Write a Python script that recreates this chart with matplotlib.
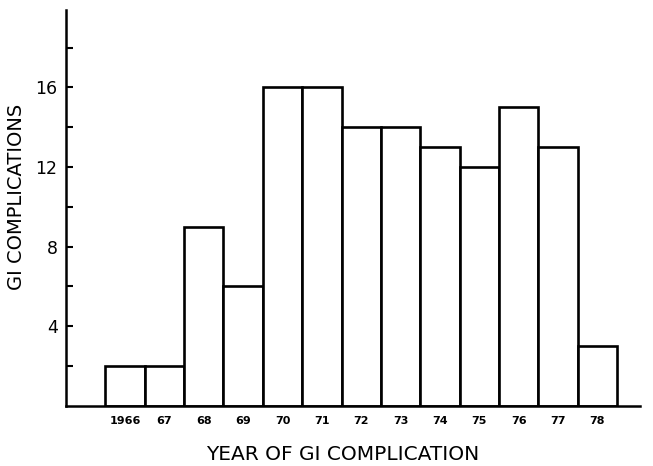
import matplotlib
matplotlib.use("Agg")
import matplotlib.pyplot as plt
from matplotlib import font_manager

years = ["1966", "67", "68", "69", "70", "71", "72", "73", "74", "75", "76", "77", "78"]
counts = [2, 2, 9, 6, 16, 16, 14, 14, 13, 12, 15, 13, 3]
y_major = [4, 8, 12, 16]
y_minor = [2, 6, 10, 14, 18]

names = {f.name for f in font_manager.fontManager.ttflist}
narrow = "Liberation Sans Narrow" if "Liberation Sans Narrow" in names else "DejaVu Sans"

fig = plt.figure(figsize=(6.53, 4.66), dpi=100)
ax = fig.add_axes([0.101, 0.129, 0.879, 0.85])

x = list(range(len(years)))
ax.bar(x, counts, width=1.0, facecolor="white", edgecolor="black", linewidth=1.9)

ax.set_xlim(-1.5, 13.08)
ax.set_ylim(0, 19.9)

for s in ["top", "right"]:
    ax.spines[s].set_visible(False)
for s in ["left", "bottom"]:
    ax.spines[s].set_linewidth(1.8)

ax.set_xticks(x)
ax.set_xticklabels(years, fontfamily=narrow, fontweight="bold", fontsize=8)
ax.tick_params(axis="x", length=0, pad=7)

ax.set_yticks(y_major)
ax.set_yticklabels([str(v) for v in y_major], fontsize=12.5)
ax.set_yticks(y_minor, minor=True)
ax.tick_params(axis="y", which="both", direction="in", length=5, width=1.5, pad=6)

fig.text(17 / 653, 1 - 197 / 466, "GI COMPLICATIONS", rotation=90,
         ha="center", va="center", fontsize=14)
fig.text(343 / 653, 1 - 455 / 466, "YEAR OF GI COMPLICATION",
         ha="center", va="center", fontsize=14.5)

fig.savefig("out.png", dpi=100)
